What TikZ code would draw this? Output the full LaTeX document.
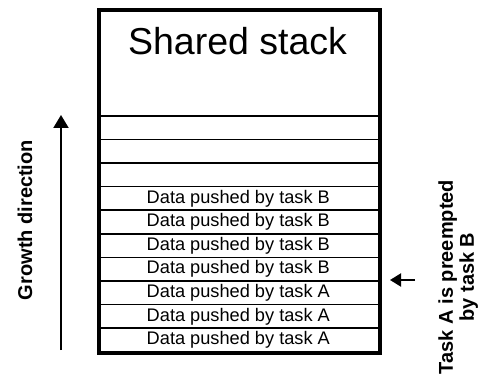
\documentclass[tikz,border=0pt]{standalone}
\usepackage{fontspec}
\setmainfont{Liberation Sans}
\usetikzlibrary{arrows.meta}
\begin{document}
\begin{tikzpicture}[x=1pt,y=-1pt,
  rowbox/.style={draw, line width=1.6pt, minimum width=281pt, minimum height=23.6pt,
    inner sep=0pt, anchor=north west, font=\fontsize{18.2}{20}\selectfont},
  outerbox/.style={draw, line width=3.5pt, minimum width=281pt, minimum height=342.5pt,
    inner sep=0pt, anchor=north west},
  sidelabel/.style={rotate=90, font=\bfseries\fontsize{20}{21}\selectfont, inner sep=0pt, align=center},
  bigarrow/.style={line width=2pt, -{Triangle[width=15pt,length=13pt]}},
  smallarrow/.style={line width=2pt, -{Triangle[width=13pt,length=11pt]}}
]
\useasboundingbox (0,0) rectangle (481,379);
% rows
\foreach \i/\t in {0/{},1/{},2/{},3/{Data pushed by task B},4/{Data pushed by task B},5/{Data pushed by task B},6/{Data pushed by task B},7/{Data pushed by task A},8/{Data pushed by task A},9/{Data pushed by task A}}{
  \node[rowbox] (r\i) at (97,{115+23.6*\i}) {\t};
}
% title
\node[font=\fontsize{37.5}{40}\selectfont, anchor=base, inner sep=0pt] (title) at (237.5,55) {Shared stack};
% outer box
\node[outerbox] (stack) at (97,8.5) {};
% growth arrow
\coordinate (g0) at (61,350);
\coordinate (g1) at (61,115);
\draw[bigarrow] (g0) -- (g1);
\node[sidelabel, anchor=base] (growth) at (32,220) {Growth direction};
% preemption arrow and label
\coordinate (p0) at (415,280);
\coordinate (p1) at (390,280);
\draw[smallarrow] (p0) -- (p1);
\node[sidelabel] (preempt) at (458.3,277) {Task A is preempted\\by task B};
\end{tikzpicture}
\end{document}
